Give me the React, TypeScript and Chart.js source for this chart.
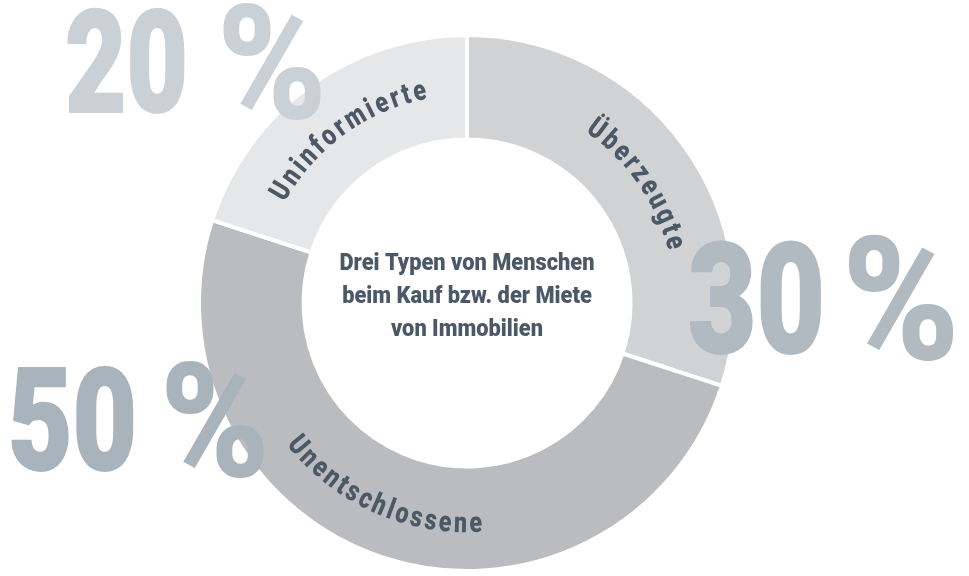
import { useEffect, useRef } from "react";
import { Chart, registerables } from "chart.js";

Chart.register(...registerables);

// ---------- data ----------
const categories = ["Überzeugte", "Unentschlossene", "Uninformierte"];
const shares = [30, 50, 20];
const centerLines = ["Drei Typen von Menschen", "beim Kauf bzw. der Miete", "von Immobilien"];

// ---------- style ----------
const sliceColors = ["#d1d2d4", "#bbbcbf", "#e6e7e8"];
const percentColors = ["#b1b9c1", "#a9b3bc", "#c9d0d6"];
const labelColor = "#4b5866";
const FONT = 'Roboto, "DejaVu Sans Condensed", sans-serif';

// arc label placement: angular shift (deg) from slice centre, top outward?
const labelShiftDeg = [1, 6, 0];
const labelOutward = [true, false, true];
const LABEL_SX = 0.8;

// big percentage placement (canvas px)
const pctStyle = [
  { x: 688, y: 353, size: 154, numW: 137, pctX: 842, pctW: 118 },
  { x: 8, y: 470, size: 142, numW: 129, pctX: 160, pctW: 110 },
  { x: 65, y: 112, size: 142, numW: 123, pctX: 217, pctW: 110 },
];

function drawArcText(
  ctx: CanvasRenderingContext2D,
  text: string,
  cx: number,
  cy: number,
  r: number,
  centerAng: number,
  outward: boolean,
  spacing: number
) {
  const chars = [...text];
  const widths = chars.map((ch) => ctx.measureText(ch).width * LABEL_SX);
  const total = widths.reduce((a, b) => a + b, 0) + spacing * (chars.length - 1);
  const dir = outward ? 1 : -1;
  let ang = centerAng - (dir * total) / (2 * r);
  ctx.textAlign = "center";
  ctx.textBaseline = "alphabetic";
  chars.forEach((ch, i) => {
    const w = widths[i];
    const a = ang + (dir * w) / (2 * r);
    ctx.save();
    ctx.translate(cx + r * Math.cos(a), cy + r * Math.sin(a));
    ctx.rotate(outward ? a + Math.PI / 2 : a - Math.PI / 2);
    ctx.scale(LABEL_SX, 1);
    ctx.fillText(ch, 0, 0);
    ctx.restore();
    ang += (dir * (w + spacing)) / r;
  });
}

function drawScaled(
  ctx: CanvasRenderingContext2D,
  text: string,
  x: number,
  y: number,
  targetW: number,
  sy: number,
  stroke: number
) {
  const w = ctx.measureText(text).width;
  ctx.save();
  ctx.translate(x, y);
  ctx.scale(targetW / w, sy);
  ctx.textAlign = "left";
  ctx.textBaseline = "alphabetic";
  ctx.fillText(text, 0, 0);
  if (stroke > 0) {
    ctx.lineWidth = stroke;
    ctx.lineJoin = "round";
    ctx.strokeText(text, 0, 0);
  }
  ctx.restore();
}

const overlayPlugin = {
  id: "overlay",
  afterDatasetsDraw(chart: any) {
    const ctx: CanvasRenderingContext2D = chart.ctx;
    const meta = chart.getDatasetMeta(0);
    const arcs = meta.data;
    if (!arcs.length) return;
    const first = arcs[0];
    const cx = first.x;
    const cy = first.y;
    const outerR = first.outerRadius;
    const innerR = first.innerRadius;
    const midR = (outerR + innerR) / 2 + 3;

    // curved labels
    ctx.save();
    ctx.fillStyle = labelColor;
    ctx.font = `900 29px ${FONT}`;
    const capH = 21;
    arcs.forEach((arc: any, i: number) => {
      const c = (arc.startAngle + arc.endAngle) / 2 + (labelShiftDeg[i] * Math.PI) / 180;
      const out = labelOutward[i];
      const r = out ? midR - capH / 2 : midR + capH / 2;
      drawArcText(ctx, categories[i], cx, cy, r, c, out, 3);
    });
    ctx.restore();

    // big percentages
    ctx.save();
    shares.forEach((v, i) => {
      const s = pctStyle[i];
      ctx.fillStyle = percentColors[i];
      ctx.strokeStyle = percentColors[i];
      ctx.font = `900 ${s.size}px ${FONT}`;
      drawScaled(ctx, String(v), s.x, s.y, s.numW, 1, 2);
      drawScaled(ctx, "%", s.pctX, s.y + 6, s.pctW, 1.12, 0);
    });
    ctx.restore();

    // centre text
    ctx.save();
    ctx.fillStyle = labelColor;
    ctx.font = `900 23px ${FONT}`;
    ctx.textAlign = "center";
    ctx.textBaseline = "middle";
    const sx = 255 / ctx.measureText(centerLines[0]).width;
    const lh = 33;
    centerLines.forEach((line, i) => {
      ctx.save();
      ctx.translate(cx, cy - 39 + i * lh);
      ctx.scale(sx, 1);
      ctx.fillText(line, 0, 0);
      ctx.restore();
    });
    ctx.restore();
  },
};

export default function App() {
  const ref = useRef<HTMLCanvasElement | null>(null);
  useEffect(() => {
    if (!ref.current) return;
    const chart = new Chart(ref.current, {
      type: "doughnut",
      data: {
        labels: categories,
        datasets: [
          {
            data: shares,
            backgroundColor: sliceColors,
            borderColor: "#ffffff",
            borderWidth: 4,
            hoverOffset: 0,
          },
        ],
      },
      options: {
        responsive: false,
        animation: false,
        devicePixelRatio: 1,
        cutout: "61%",
        layout: { padding: { left: 197, right: 232, top: 33, bottom: 3 } },
        plugins: {
          legend: { display: false },
          tooltip: { enabled: false },
        },
        events: [],
      },
      plugins: [overlayPlugin],
    });
    return () => chart.destroy();
  }, []);
  return (
    <div style={{ position: "absolute", left: 0, top: 0, width: 969, height: 576, background: "#fff" }}>
      <canvas ref={ref} width={969} height={576} style={{ display: "block" }} />
    </div>
  );
}
